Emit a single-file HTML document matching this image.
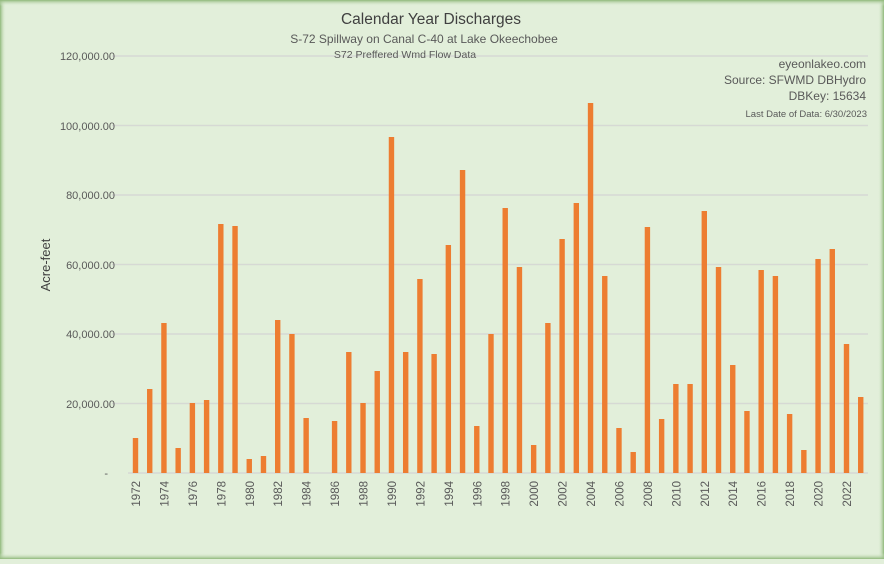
<!DOCTYPE html>
<html><head><meta charset="utf-8"><style>
html,body{margin:0;padding:0;}
body{width:884px;height:559px;overflow:hidden;background:#e2efda;font-family:"Liberation Sans",sans-serif;}
</style></head><body>
<svg width="884" height="559" xmlns="http://www.w3.org/2000/svg" font-family="Liberation Sans, sans-serif">
<defs>
<linearGradient id="l" x1="0" x2="1"><stop offset="0" stop-color="#8fb87a"/><stop offset="1" stop-color="#e2efda" stop-opacity="0"/></linearGradient>
<linearGradient id="r" x1="1" x2="0"><stop offset="0" stop-color="#8fb87a"/><stop offset="1" stop-color="#e2efda" stop-opacity="0"/></linearGradient>
<linearGradient id="t" y1="0" y2="1" x1="0" x2="0"><stop offset="0" stop-color="#8fb87a"/><stop offset="1" stop-color="#e2efda" stop-opacity="0"/></linearGradient>
<linearGradient id="b" y1="1" y2="0" x1="0" x2="0"><stop offset="0" stop-color="#8fb87a"/><stop offset="1" stop-color="#e2efda" stop-opacity="0"/></linearGradient>
</defs>
<rect width="884" height="559" fill="#e2efda"/>
<rect x="0" y="0" width="6" height="559" fill="url(#l)"/>
<rect x="878" y="0" width="6" height="559" fill="url(#r)"/>
<rect x="0" y="0" width="884" height="6" fill="url(#t)"/>
<rect x="0" y="553" width="884" height="6" fill="url(#b)"/>
<g stroke="#d6d9d4" stroke-width="1.5">
<line x1="112" x2="868" y1="56" y2="56"/><line x1="112" x2="868" y1="125.5" y2="125.5"/>
<line x1="112" x2="868" y1="195" y2="195"/><line x1="112" x2="868" y1="264.5" y2="264.5"/>
<line x1="112" x2="868" y1="334" y2="334"/><line x1="112" x2="868" y1="403.5" y2="403.5"/>
<line x1="128" x2="868" y1="473" y2="473"/>
</g>
<g fill="#595959" font-size="11" text-anchor="end">
<text x="115" y="60">120,000.00</text><text x="115" y="130">100,000.00</text>
<text x="115" y="199">80,000.00</text><text x="115" y="269">60,000.00</text>
<text x="115" y="338">40,000.00</text><text x="115" y="408">20,000.00</text>
<text x="108" y="477">-</text>
</g>
<text x="50" y="265" transform="rotate(-90 50 265)" text-anchor="middle" font-size="13" fill="#404040">Acre-feet</text>
<g text-anchor="middle" fill="#404040">
<text x="431" y="24" font-size="15.5">Calendar Year Discharges</text>
<text x="424" y="43" font-size="12" fill="#595959">S-72 Spillway on Canal C-40 at Lake Okeechobee</text>
<text x="405" y="58" font-size="10.5" fill="#595959">S72 Preffered Wmd Flow Data</text>
</g>
<g text-anchor="end" fill="#595959">
<text x="866" y="68" font-size="12">eyeonlakeo.com</text>
<text x="866" y="84" font-size="12">Source: SFWMD DBHydro</text>
<text x="866" y="100" font-size="12">DBKey: 15634</text>
<text x="867" y="117" font-size="9.5">Last Date of Data: 6/30/2023</text>
</g>
<g id="bars" fill="#ed7d31"></g>
<g id="lab" fill="#595959" font-size="11.5"></g>
</svg>
<script>
var tops=[438,389,323,448,403,400,224,226,459,456,320,334,418,473,421,352,403,371,137,352,279,354,245,170,426,334,208,267,445,323,239,203,103,276,428,452,227,419,384,384,211,267,365,411,270,276,414,450,259,249,344,397];
var g=document.getElementById('bars'),L=document.getElementById('lab'),ns='http://www.w3.org/2000/svg';
for(var i=0;i<52;i++){var cx=135.5+i*14.22;
 if(tops[i]<473){var r=document.createElementNS(ns,'rect');r.setAttribute('x',cx-2.7);r.setAttribute('y',tops[i]);r.setAttribute('width',5.4);r.setAttribute('height',473-tops[i]);g.appendChild(r);}
 if(i%2==0){var t=document.createElementNS(ns,'text');t.setAttribute('x',0);t.setAttribute('y',0);t.setAttribute('text-anchor','end');
 t.setAttribute('transform','translate('+(cx+4.5)+',481) rotate(-90)');t.textContent=1972+i;L.appendChild(t);}
}
</script>
</body></html>
